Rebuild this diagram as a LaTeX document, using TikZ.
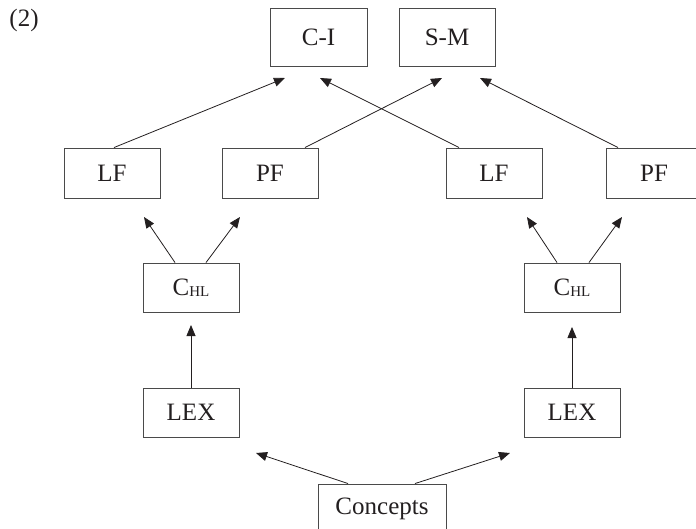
\documentclass[tikz,border=0pt]{standalone}
\usepackage{fontspec}
\setmainfont{Liberation Serif}
\usetikzlibrary{arrows.meta}
\definecolor{ink}{HTML}{231F20}
\definecolor{edge}{HTML}{4A4A4A}
\tikzset{
  box/.style={draw=edge, line width=0.9pt, inner sep=0pt, text=ink,
    minimum width=96pt, minimum height=50pt, font=\fontsize{25}{28}\selectfont},
  arr/.style={draw=ink, line width=0.8pt, -{Triangle[length=11pt,width=9pt]}}
}
\newcommand{\chl}{C{\fontsize{15}{15}\selectfont\raisebox{-0.5pt}{HL}}}
\begin{document}
\begin{tikzpicture}[x=1pt,y=-1pt]
  \useasboundingbox (0,0) rectangle (696,529);
  \clip (0,0) rectangle (696,529);

  \node[text=ink, font=\fontsize{25}{28}\selectfont] (num) at (24,20) {(2)};

  % interface levels
  \node[box, minimum width=97pt, minimum height=58pt] (ci) at (318.5,37) {C-I};
  \node[box, minimum height=58pt] (sm) at (447,37) {S-M};

  % LF / PF of each derivation
  \node[box] (lf1) at (112,173) {LF};
  \node[box] (pf1) at (270,173) {PF};
  \node[box] (lf2) at (494,173) {LF};
  \node[box] (pf2) at (654,173) {PF};

  % computational systems
  \node[box, minimum height=49pt] (chl1) at (191,287.5) {\chl};
  \node[box, minimum height=49pt] (chl2) at (572,287.5) {\chl};

  % lexicons
  \node[box, minimum height=49pt] (lex1) at (191,412.5) {LEX};
  \node[box, minimum height=49pt] (lex2) at (572,412.5) {LEX};

  \node[box, minimum width=128pt] (con) at (382,509) {Concepts};

  % arrow tips
  \coordinate (t1) at (285,78);
  \coordinate (t2) at (320,78);
  \coordinate (t3) at (442,78);
  \coordinate (t4) at (480,78);
  \coordinate (a1) at (144,217);
  \coordinate (a2) at (240,217);
  \coordinate (a3) at (527,217);
  \coordinate (a4) at (622,217);
  \coordinate (b1) at (191,325);
  \coordinate (b2) at (572,327);
  \coordinate (c1) at (256,453);
  \coordinate (c2) at (510,453);

  \draw[arr] ([xshift=2pt]lf1.north) -- (t1);
  \draw[arr] ([xshift=35pt]pf1.north) -- (t3);
  \draw[arr] ([xshift=-35pt]lf2.north) -- (t2);
  \draw[arr] ([xshift=-36pt]pf2.north) -- (t4);

  \draw[arr] ([xshift=-16pt]chl1.north) -- (a1);
  \draw[arr] ([xshift=15pt]chl1.north) -- (a2);
  \draw[arr] ([xshift=-15pt]chl2.north) -- (a3);
  \draw[arr] ([xshift=17pt]chl2.north) -- (a4);

  \draw[arr] (lex1.north) -- (b1);
  \draw[arr] (lex2.north) -- (b2);

  \draw[arr] ([xshift=-34pt]con.north) -- (c1);
  \draw[arr] ([xshift=33pt]con.north) -- (c2);
\end{tikzpicture}
\end{document}
